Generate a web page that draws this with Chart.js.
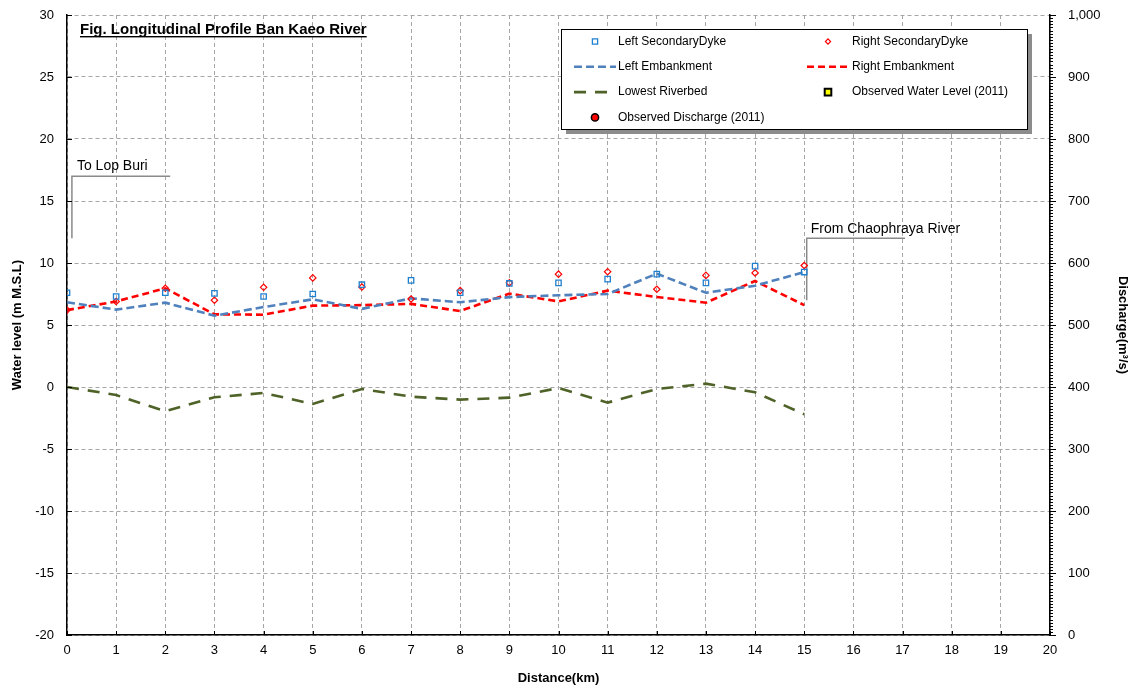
<!DOCTYPE html>
<html>
<head>
<meta charset="utf-8">
<script src="https://cdn.jsdelivr.net/npm/chart.js@4.4.0/dist/chart.umd.min.js"></script>
<style>
  html, body { margin: 0; padding: 0; background: #fff; }
  #wrap { width: 1135px; height: 688px; }
</style>
</head>
<body>
<div id="wrap"><canvas id="myChart"></canvas></div>
<script>
// distance along the river (km)
var distance = [0, 1, 2, 3, 4, 5, 6, 7, 8, 9, 10, 11, 12, 13, 14, 15];
// water levels (m M.S.L)
var leftDyke       = [7.6, 7.3, 7.6, 7.55, 7.3, 7.5, 8.25, 8.6, 7.6, 8.35, 8.4, 8.7, 9.1, 8.4, 9.75, 9.27];
var rightDyke      = [6.2, 6.9, 7.96, 7.0, 8.04, 8.8, 8.06, 7.1, 7.77, 8.4, 9.1, 9.3, 7.88, 9.0, 9.2, 9.8];
var leftEmbank     = [6.83, 6.24, 6.8, 5.75, 6.45, 7.07, 6.3, 7.15, 6.83, 7.25, 7.4, 7.5, 9.14, 7.6, 8.17, 9.27];
var rightEmbank    = [6.2, 6.9, 7.96, 5.86, 5.83, 6.56, 6.6, 6.7, 6.13, 7.53, 6.9, 7.77, 7.26, 6.8, 8.55, 6.6];
var lowestRiverbed = [0, -0.65, -1.96, -0.83, -0.48, -1.37, -0.16, -0.78, -1.02, -0.86, -0.08, -1.26, -0.16, 0.27, -0.43, -2.2];
// no observations plotted in the figure
var obsWaterLevel = [];
var obsDischarge = [];

// annotation call-outs: [x km, y m]
var lopBuriLine = [[0.1, 12], [0.1, 17], [2.1, 17]];
var chaoLine = [[15.05, 7], [15.05, 12], [17.05, 12]];

function pts(arr) {
    return arr.map(function (v, i) { return { x: distance[i], y: v }; });
}

var FONT = "'Liberation Sans', Arial, sans-serif";
Chart.defaults.font.family = FONT;
Chart.defaults.color = '#000';

var decor = {
    id: 'decor',
    beforeDatasetsDraw: function (chart) {
        var ctx = chart.ctx, x = chart.scales.x, y = chart.scales.y;
        ctx.save();
        ctx.strokeStyle = '#8a8a8a';
        ctx.lineWidth = 1.5;
        [lopBuriLine, chaoLine].forEach(function (l) {
            ctx.beginPath();
            l.forEach(function (p, i) {
                var px = x.getPixelForValue(p[0]), py = y.getPixelForValue(p[1]);
                if (i === 0) ctx.moveTo(px, py); else ctx.lineTo(px, py);
            });
            ctx.stroke();
        });
        ctx.fillStyle = '#000';
        ctx.font = '14px ' + FONT;
        ctx.textBaseline = 'alphabetic';
        ctx.fillText('To Lop Buri', x.getPixelForValue(lopBuriLine[1][0]) + 5, y.getPixelForValue(lopBuriLine[1][1]) - 6);
        ctx.fillText('From Chaophraya River', x.getPixelForValue(chaoLine[1][0]) + 4, y.getPixelForValue(chaoLine[1][1]) - 5);
        ctx.restore();
    },
    afterDraw: function (chart) {
        var ctx = chart.ctx, a = chart.chartArea;
        var x = chart.scales.x, y = chart.scales.y, y2 = chart.scales.y2;
        ctx.save();
        // tick marks
        ctx.strokeStyle = '#000';
        ctx.lineWidth = 1;
        ctx.beginPath();
        y.ticks.forEach(function (t) {
            var p = Math.round(y.getPixelForValue(t.value)) + 0.5;
            ctx.moveTo(a.left, p); ctx.lineTo(a.left + 5, p);
        });
        x.ticks.forEach(function (t) {
            var p = Math.round(x.getPixelForValue(t.value)) + 0.5;
            ctx.moveTo(p, a.bottom); ctx.lineTo(p, a.bottom - 4);
        });
        for (var v = 0; v <= 1000; v += 5) {
            var p = Math.round(y2.getPixelForValue(v)) + 0.5;
            var len = v % 100 === 0 ? 6 : 3;
            ctx.moveTo(a.right, p); ctx.lineTo(a.right + len, p);
        }
        ctx.stroke();

        // figure title
        var title = 'Fig. Longitudinal Profile Ban Kaeo River';
        ctx.font = 'bold 15px ' + FONT;
        ctx.fillStyle = '#000';
        ctx.textBaseline = 'alphabetic';
        var tx = a.left + 13, ty = a.top + 19;
        ctx.fillText(title, tx, ty);
        var tw = ctx.measureText(title).width;
        ctx.fillRect(tx, ty + 2, tw, 1.4);

        // legend box
        var bx = a.right - 489, by = a.top + 14, bw = 466, bh = 100;
        ctx.fillStyle = '#8c8c8c';
        ctx.fillRect(bx + 5, by + 5, bw, bh);
        ctx.fillStyle = '#fff';
        ctx.fillRect(bx, by, bw, bh);
        ctx.strokeStyle = '#000';
        ctx.lineWidth = 1;
        ctx.strokeRect(bx + 0.5, by + 0.5, bw, bh);

        ctx.font = '12px ' + FONT;
        ctx.textBaseline = 'middle';
        chart.data.datasets.forEach(function (ds, i) {
            var col = i % 2, row = Math.floor(i / 2);
            var cy = by + 12.5 + row * 25.3;
            var mx = bx + (col ? 267 : 34);
            var txx = bx + (col ? 291 : 57);
            if (ds.pointRadius > 0) {
                ctx.setLineDash([]);
                ctx.lineWidth = ds.pointBorderWidth;
                ctx.strokeStyle = ds.borderColor;
                ctx.fillStyle = ds.backgroundColor;
                var r = ds.legendSize;
                ctx.beginPath();
                if (ds.pointStyle === 'rect') {
                    ctx.rect(mx - r, cy - r, 2 * r, 2 * r);
                } else if (ds.pointStyle === 'rectRot') {
                    ctx.moveTo(mx, cy - r); ctx.lineTo(mx + r, cy); ctx.lineTo(mx, cy + r); ctx.lineTo(mx - r, cy); ctx.closePath();
                } else {
                    ctx.arc(mx, cy, r, 0, Math.PI * 2);
                }
                ctx.fill();
                ctx.stroke();
            } else {
                ctx.setLineDash(ds.borderDash);
                ctx.lineWidth = ds.borderWidth;
                ctx.strokeStyle = ds.borderColor;
                ctx.beginPath();
                ctx.moveTo(mx - 21, cy); ctx.lineTo(mx + 21, cy);
                ctx.stroke();
                ctx.setLineDash([]);
            }
            ctx.fillStyle = '#000';
            ctx.fillText(ds.label, txx, cy);
        });
        ctx.restore();
    }
};

var gridOpts = { color: '#a6a6a6', lineWidth: 1, drawTicks: false };
var borderOpts = { color: '#000', width: 1.5, dash: [4, 3] };

function fixVertical(width) {
    return function (s) {
        s.width = width;
        s.paddingTop = 0;
        s.paddingBottom = 0;
    };
}

var ctx = document.getElementById('myChart').getContext('2d');
var chart = new Chart(ctx, {
    type: 'line',
    data: {
        datasets: [{
            label: 'Left SecondaryDyke',
            data: pts(leftDyke),
            showLine: false,
            pointStyle: 'rect',
            pointRadius: 3.8,
            pointBorderWidth: 1.3,
            borderColor: '#1f80d0',
            backgroundColor: 'rgba(255,255,255,0)',
            legendSize: 2.6
        }, {
            label: 'Right SecondaryDyke',
            data: pts(rightDyke),
            showLine: false,
            pointStyle: 'rectRot',
            pointRadius: 3.2,
            pointBorderWidth: 1.2,
            borderColor: '#ff0000',
            backgroundColor: 'rgba(255,255,255,0)',
            legendSize: 2.6
        }, {
            label: 'Left Embankment',
            data: pts(leftEmbank),
            borderColor: '#4f81bd',
            borderWidth: 2.6,
            borderDash: [8, 4],
            pointRadius: 0
        }, {
            label: 'Right Embankment',
            data: pts(rightEmbank),
            borderColor: '#ff0000',
            borderWidth: 2.6,
            borderDash: [7, 4],
            pointRadius: 0
        }, {
            label: 'Lowest Riverbed',
            data: pts(lowestRiverbed),
            borderColor: '#4f6228',
            borderWidth: 2.6,
            borderDash: [12, 9],
            pointRadius: 0
        }, {
            label: 'Observed Water Level (2011)',
            data: pts(obsWaterLevel),
            showLine: false,
            pointStyle: 'rect',
            pointRadius: 4,
            pointBorderWidth: 2,
            borderColor: '#000',
            backgroundColor: '#ffff00',
            legendSize: 3.3
        }, {
            label: 'Observed Discharge (2011)',
            data: pts(obsDischarge),
            yAxisID: 'y2',
            showLine: false,
            pointStyle: 'circle',
            pointRadius: 4,
            pointBorderWidth: 1.5,
            borderColor: '#000',
            backgroundColor: '#ff0000',
            legendSize: 3.6
        }]
    },
    options: {
        responsive: true,
        maintainAspectRatio: false,
        animation: false,
        layout: { padding: { top: 15, left: 0, right: 0, bottom: 0 } },
        plugins: { legend: { display: false }, tooltip: { enabled: false } },
        scales: {
            x: {
                type: 'linear',
                min: 0,
                max: 20,
                ticks: { stepSize: 1, padding: 8, font: { size: 13 } },
                grid: gridOpts,
                border: borderOpts,
                title: { display: true, text: 'Distance(km)', font: { size: 13, weight: 'bold' }, padding: { top: 0, bottom: 2 } },
                afterFit: function (s) { s.height = 53; s.paddingLeft = 0; s.paddingRight = 0; }
            },
            y: {
                position: 'left',
                min: -20,
                max: 30,
                ticks: { stepSize: 5, padding: 13, font: { size: 13 } },
                grid: gridOpts,
                border: borderOpts,
                title: { display: true, text: 'Water level (m M.S.L)', font: { size: 13, weight: 'bold' }, padding: { top: 10, bottom: 0 } },
                afterFit: fixVertical(67)
            },
            y2: {
                position: 'right',
                min: 0,
                max: 1000,
                ticks: {
                    stepSize: 100, padding: 18, font: { size: 13 },
                    callback: function (v) { return v.toLocaleString('en-US'); }
                },
                grid: { drawOnChartArea: false, drawTicks: false },
                border: { color: '#000', width: 1.5 },
                title: { display: true, text: 'Discharge(m³/s)', font: { size: 13, weight: 'bold' }, padding: { top: 5, bottom: 0 } },
                afterFit: fixVertical(85)
            }
        }
    },
    plugins: [decor]
});
</script>
</body>
</html>
